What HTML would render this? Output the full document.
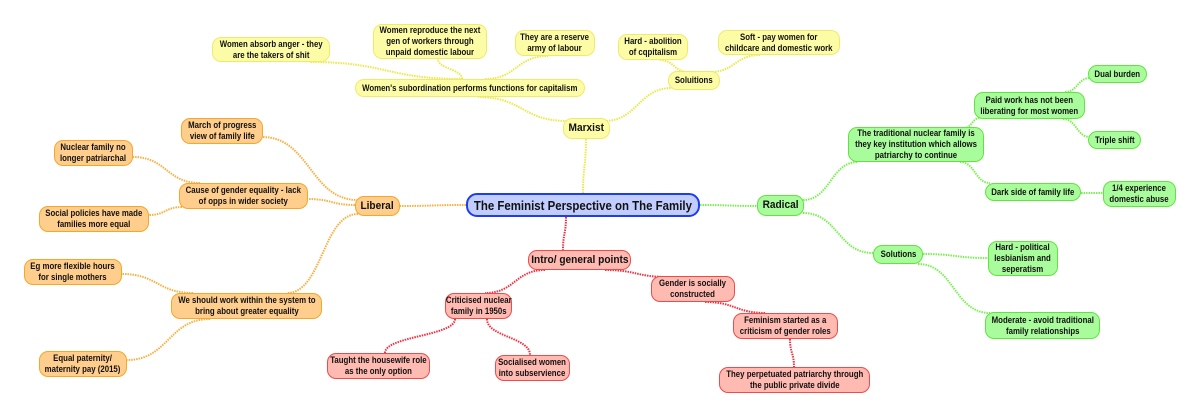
<!DOCTYPE html>
<html><head><meta charset="utf-8"><style>
body{margin:0;width:1200px;height:418px;background:#fff;position:relative;overflow:hidden;font-family:"Liberation Sans",Arial,sans-serif}
.n{position:absolute;box-sizing:border-box;display:flex;align-items:center;justify-content:center;text-align:center;font-weight:bold;font-size:9px;line-height:11px;color:#111;border-radius:9px;border:1.5px solid;white-space:nowrap}
.n span{display:inline-block;transform:scaleX(.87)}
.y{background:#fdfca6;border-color:#f0ea6a}
.o{background:#ffcd8c;border-color:#f6a72a}
.g{background:#a9fc9b;border-color:#62e440}
.r{background:#ffbab2;border-color:#f04a4a}
.b{background:#c2cdff;border-color:#1e3cf0;border-width:2px;font-size:13px;border-radius:11px}
.b span{transform:scaleX(.88)}
.m{font-size:11px}
.m span{transform:scaleX(.92)}
svg{position:absolute;left:0;top:0}
</style></head><body>
<svg width="1200" height="418" id="s"></svg>
<div class="n b" style="left:466px;top:193px;width:234px;height:24px"><span>The Feminist Perspective on The Family</span></div>
<div class="n y m" style="left:563px;top:118px;width:47px;height:21px"><span>Marxist</span></div>
<div class="n y" style="left:355px;top:79px;width:230px;height:18px"><span>Women's subordination performs functions for capitalism</span></div>
<div class="n y" style="left:212px;top:37px;width:118px;height:25px"><span>Women absorb anger - they<br>are the takers of shit</span></div>
<div class="n y" style="left:373px;top:24px;width:114px;height:35px"><span>Women reproduce the next<br>gen of workers through<br>unpaid domestic labour</span></div>
<div class="n y" style="left:515px;top:30px;width:80px;height:26px"><span>They are a reserve<br>army of labour</span></div>
<div class="n y" style="left:618px;top:34px;width:70px;height:26px"><span>Hard - abolition<br>of cqpitalism</span></div>
<div class="n y" style="left:718px;top:30px;width:122px;height:25px"><span>Soft - pay women for<br>childcare and domestic work</span></div>
<div class="n y" style="left:668px;top:71px;width:52px;height:19px"><span>Soluitions</span></div>
<div class="n o m" style="left:355px;top:196px;width:45px;height:20px"><span>Liberal</span></div>
<div class="n o" style="left:181px;top:118px;width:82px;height:26px"><span>March of progress<br>view of family life</span></div>
<div class="n o" style="left:54px;top:140px;width:79px;height:26px"><span>Nuclear family no<br>longer patriarchal</span></div>
<div class="n o" style="left:179px;top:183px;width:129px;height:26px"><span>Cause of gender equality - lack<br>of opps in wider society</span></div>
<div class="n o" style="left:39px;top:206px;width:110px;height:26px"><span>Social policies have made<br>families more equal</span></div>
<div class="n o" style="left:24px;top:259px;width:98px;height:26px"><span>Eg more flexible hours<br>for single mothers</span></div>
<div class="n o" style="left:171px;top:293px;width:151px;height:26px"><span>We should work within the system to<br>bring about greater equality</span></div>
<div class="n o" style="left:39px;top:351px;width:88px;height:26px"><span>Equal paternity/<br>maternity pay (2015)</span></div>
<div class="n g m" style="left:757px;top:195px;width:47px;height:21px"><span>Radical</span></div>
<div class="n g" style="left:848px;top:127px;width:136px;height:35px"><span>The traditional nuclear family is<br>they key institution which allows<br>patriarchy to continue</span></div>
<div class="n g" style="left:974px;top:92px;width:111px;height:27px"><span>Paid work has not been<br>liberating for most women</span></div>
<div class="n g" style="left:1088px;top:65px;width:59px;height:18px"><span>Dual burden</span></div>
<div class="n g" style="left:1088px;top:131px;width:53px;height:18px"><span>Triple shift</span></div>
<div class="n g" style="left:985px;top:183px;width:96px;height:18px"><span>Dark side of family life</span></div>
<div class="n g" style="left:1103px;top:181px;width:73px;height:26px"><span>1/4 experience<br>domestic abuse</span></div>
<div class="n g" style="left:873px;top:245px;width:50px;height:19px"><span>Solutions</span></div>
<div class="n g" style="left:988px;top:241px;width:70px;height:35px"><span>Hard - political<br>lesbianism and<br>seperatism</span></div>
<div class="n g" style="left:985px;top:312px;width:115px;height:27px"><span>Moderate - avoid traditional<br>family relationships</span></div>
<div class="n r m" style="left:528px;top:250px;width:103px;height:20px"><span>Intro/ general points</span></div>
<div class="n r" style="left:651px;top:276px;width:84px;height:26px"><span>Gender is socially<br>constructed</span></div>
<div class="n r" style="left:445px;top:293px;width:67px;height:26px"><span>Criticised nuclear<br>family in 1950s</span></div>
<div class="n r" style="left:733px;top:313px;width:105px;height:26px"><span>Feminism started as a<br>criticism of gender roles</span></div>
<div class="n r" style="left:327px;top:353px;width:103px;height:26px"><span>Taught the housewife role<br>as the only option</span></div>
<div class="n r" style="left:495px;top:355px;width:75px;height:26px"><span>Socialised women<br>into subservience</span></div>
<div class="n r" style="left:719px;top:367px;width:151px;height:26px"><span>They perpetuated patriarchy through<br>the public private divide</span></div>
<script>
var Y="#ece84a",O="#f8b040",G="#78f050",R="#f03040";
var L=[[583,193,586,139,Y,1],[567,121,478,97,Y],[604,121,672,88,Y],[463,79,310,62,Y],[462,79,438,59,Y,1],[485,79,548,56,Y],[688,72,660,60,Y],[710,72,760,55,Y],
[466,205,400,206,O],[358,200,262,137,O],[355,205,308,199,O],[358,214,287,293,O],[200,183,133,157,O],[182,207,149,215,O],[193,293,122,274,O],[210,319,127,360,O],
[700,205,757,206,G],[803,200,858,162,G],[803,213,873,253,G],[964,128,980,118,G],[1065,92,1090,78,G],[1063,119,1090,137,G],[960,162,990,183,G],[1081,193,1103,193,G],[923,254,988,258,G],[918,264,990,313,G],
[566,217,563,250,R,1],[545,270,485,293,R],[605,270,668,277,R],[455,319,385,353,R,1],[487,319,530,355,R,1],[705,302,766,313,R],[790,339,794,367,R,1]];
var s=document.getElementById('s'),h='';
L.forEach(function(l){var a=l[0],b=l[1],c=l[2],d=l[3],dd;
if(l[5]){var my=(b+d)/2;dd='M'+a+' '+b+'C'+a+' '+my+','+c+' '+my+','+c+' '+d;}
else{var mx=(a+c)/2;dd='M'+a+' '+b+'C'+mx+' '+b+','+mx+' '+d+','+c+' '+d;}
h+='<path d="'+dd+'" fill="none" stroke="'+l[4]+'" stroke-width="2" stroke-dasharray="1.5 1"/>';});
s.innerHTML=h;
</script>
</body></html>
